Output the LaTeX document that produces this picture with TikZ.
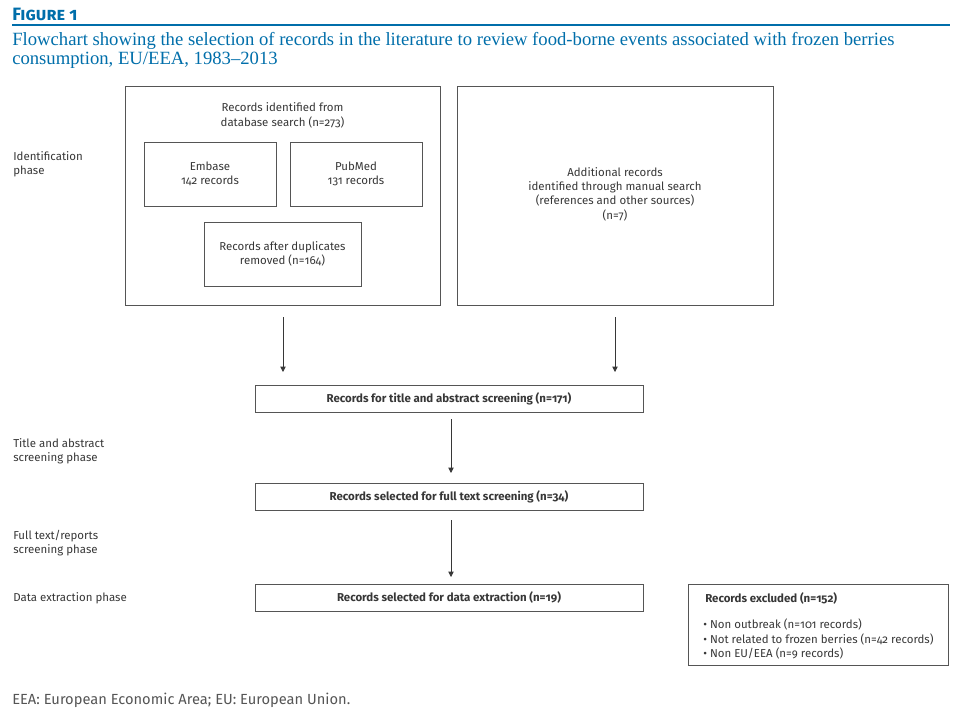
\documentclass[tikz,border=0pt]{standalone}
\usepackage{fontspec}
\setmainfont{Fira Sans}[Numbers=OldStyle]
\newfontfamily\capfont{Liberation Serif}
\usetikzlibrary{arrows.meta}
\definecolor{ecdcblue}{RGB}{0,110,170}
\definecolor{boxline}{RGB}{85,85,85}
\definecolor{txt}{RGB}{55,55,55}
\tikzset{
  box/.style={draw=boxline, line width=0.7pt, inner sep=0pt},
  lbl/.style={text=txt, font=\fontsize{8.6}{10.8}\selectfont, align=center, inner sep=0pt},
  blbl/.style={text=txt, font=\fontsize{8.6}{10.8}\selectfont\bfseries, align=center, inner sep=0pt},
  phase/.style={text=txt, font=\fontsize{8.6}{10.8}\selectfont, align=left, anchor=north west, inner sep=0pt},
  flow/.style={draw=txt, line width=0.6pt, -{Triangle[length=4pt,width=4pt]}},
}
\begin{document}
\begin{tikzpicture}[x=0.75pt,y=-0.75pt]
\useasboundingbox (0,0) rectangle (961,713);
% header
\node[anchor=base west, inner sep=0pt, text=ecdcblue, font=\fontsize{13.4}{15}\selectfont\bfseries\scshape] (fig) at (12,21) {Figure 1};
\coordinate (hl) at (12,25);
\coordinate (hr) at (950,25);
\draw[ecdcblue, line width=1pt] (hl) -- (hr);
\node[anchor=north west, inner sep=0pt, text=ecdcblue, align=left, font=\capfont\fontsize{14}{14.4}\selectfont] (cap) at (12,32) {Flowchart showing the selection of records in the literature to review food-borne events associated with frozen berries\\consumption, EU/EEA, 1983–2013};
% big boxes
\node[box, minimum width=315*0.75pt, minimum height=219*0.75pt] (db) at (282.5,195.5) {};
\node[box, minimum width=316*0.75pt, minimum height=219*0.75pt] (man) at (615,195.5) {};
\node[lbl] (dbt) at (282.5,115.5) {Records identified from\\database search (n=273)};
\node[box, minimum width=132*0.75pt, minimum height=64*0.75pt] (emb) at (210,174) {};
\node[lbl] at (emb) {Embase\\142 records};
\node[box, minimum width=132*0.75pt, minimum height=64*0.75pt] (pub) at (356,174) {};
\node[lbl] at (pub) {PubMed\\131 records};
\node[box, minimum width=157*0.75pt, minimum height=64*0.75pt] (dup) at (282.5,254) {};
\node[lbl] at (dup) {Records after duplicates\\removed (n=164)};
\node[lbl] (mant) at (615,194) {Additional records\\identified through manual search\\(references and other sources)\\(n=7)};
% flow boxes
\node[box, minimum width=388*0.75pt, minimum height=27*0.75pt] (tas) at (449,398.5) {};
\node[blbl] at (tas) {Records for title and abstract screening (n=171)};
\node[box, minimum width=388*0.75pt, minimum height=27*0.75pt] (fts) at (449,496.5) {};
\node[blbl] at (fts) {Records selected for full text screening (n=34)};
\node[box, minimum width=388*0.75pt, minimum height=27*0.75pt] (dex) at (449,597.5) {};
\node[blbl] at (dex) {Records selected for data extraction (n=19)};
\node[box, minimum width=260*0.75pt, minimum height=81*0.75pt] (exc) at (818,624.5) {};
\node[blbl, anchor=base west] (exct) at (705,602) {Records excluded (n=152)};
\node[lbl, anchor=north west, align=left] (excl) at (703,619) {• Non outbreak (n=101 records)\\• Not related to frozen berries (n=42 records)\\• Non EU/EEA (n=9 records)};
% arrows
\coordinate (a1s) at (283,317); \coordinate (a1e) at (283,372);
\coordinate (a2s) at (615,317); \coordinate (a2e) at (615,372);
\coordinate (a3s) at (451,419); \coordinate (a3e) at (451,473);
\coordinate (a4s) at (451,520); \coordinate (a4e) at (451,577);
\draw[flow] (a1s) -- (a1e);
\draw[flow] (a2s) -- (a2e);
\draw[flow] (a3s) -- (a3e);
\draw[flow] (a4s) -- (a4e);
% phases
\node[phase] (p1) at (13,151) {Identification\\phase};
\node[phase] (p2) at (13,438) {Title and abstract\\screening phase};
\node[phase] (p3) at (13,530) {Full text/reports\\screening phase};
\node[phase] (p4) at (13,592) {Data extraction phase};
% footer
\node[anchor=base west, inner sep=0pt, text=txt!85, font=\fontsize{11}{13}\selectfont] (foot) at (12,704) {EEA: European Economic Area; EU: European Union.};
\end{tikzpicture}
\end{document}
